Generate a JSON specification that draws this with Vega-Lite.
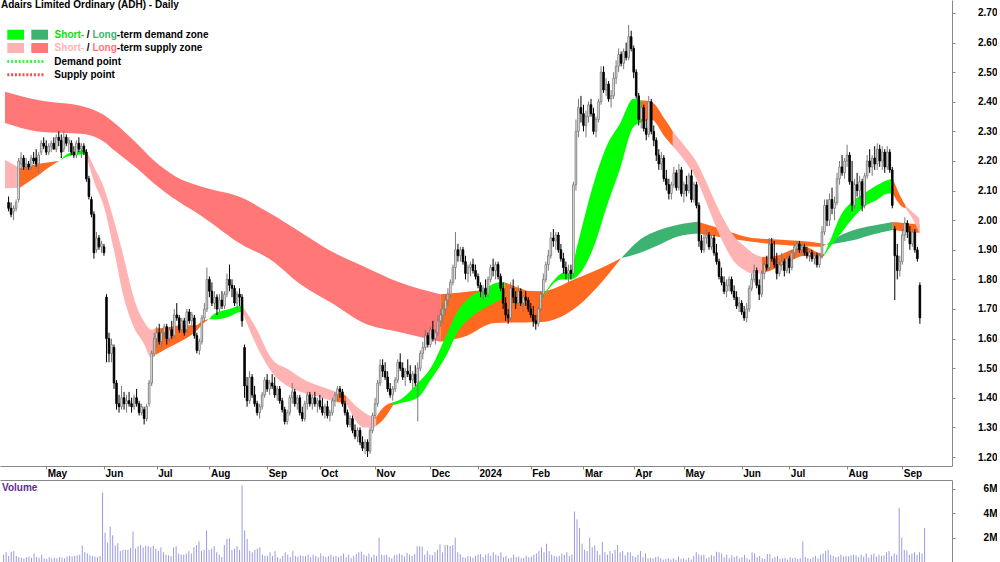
{
"$schema":"https://vega.github.io/schema/vega-lite/v6.json",
"padding":0,
"background":"white",
"spacing":0,
"config":{"view":{"stroke":null},"font":"Liberation Sans",
"axis":{"labelFont":"Liberation Sans","labelFontSize":10,"labelFontWeight":"bold","labelColor":"#000","domainColor":"#888","tickColor":"#888","grid":false,"title":null},
"axisY":{"labelOverlap":false},
"legend":{"labelFont":"Liberation Sans","labelFontSize":10,"labelFontWeight":"bold","labelColor":"#000","title":null,"padding":0}},
"datasets":{
"px":[
{"i":0,"o":2.06,"h":2.08,"l":2.03,"c":2.04,"v":0.6},{"i":1,"o":2.04,"h":2.06,"l":2.01,"c":2.02,"v":0.8},{"i":2,"o":2.03,"h":2.05,"l":2.0,"c":2.04,"v":0.5},{"i":3,"o":2.04,"h":2.07,"l":2.03,"c":2.06,"v":0.85},{"i":4,"o":2.07,"h":2.21,"l":2.06,"c":2.2,"v":0.9},{"i":5,"o":2.19,"h":2.23,"l":2.17,"c":2.21,"v":0.5},{"i":6,"o":2.21,"h":2.22,"l":2.17,"c":2.18,"v":0.4},{"i":7,"o":2.18,"h":2.21,"l":2.17,"c":2.19,"v":0.35},{"i":8,"o":2.19,"h":2.2,"l":2.17,"c":2.18,"v":0.3},{"i":9,"o":2.18,"h":2.22,"l":2.17,"c":2.21,"v":0.4},
{"i":10,"o":2.21,"h":2.23,"l":2.19,"c":2.2,"v":0.45},{"i":11,"o":2.21,"h":2.24,"l":2.18,"c":2.19,"v":0.35},{"i":12,"o":2.19,"h":2.23,"l":2.16,"c":2.22,"v":0.7},{"i":13,"o":2.23,"h":2.27,"l":2.22,"c":2.26,"v":0.4},{"i":14,"o":2.26,"h":2.28,"l":2.24,"c":2.25,"v":0.35},{"i":15,"o":2.25,"h":2.27,"l":2.22,"c":2.23,"v":0.6},{"i":16,"o":2.23,"h":2.26,"l":2.22,"c":2.25,"v":0.3},{"i":17,"o":2.25,"h":2.27,"l":2.23,"c":2.26,"v":0.25},{"i":18,"o":2.26,"h":2.28,"l":2.24,"c":2.24,"v":0.4},{"i":19,"o":2.24,"h":2.29,"l":2.23,"c":2.28,"v":0.3},
{"i":20,"o":2.28,"h":2.3,"l":2.25,"c":2.27,"v":0.35},{"i":21,"o":2.27,"h":2.29,"l":2.21,"c":2.23,"v":0.3},{"i":22,"o":2.24,"h":2.3,"l":2.23,"c":2.28,"v":0.4},{"i":23,"o":2.28,"h":2.29,"l":2.25,"c":2.26,"v":0.35},{"i":24,"o":2.26,"h":2.28,"l":2.23,"c":2.27,"v":0.3},{"i":25,"o":2.26,"h":2.27,"l":2.22,"c":2.23,"v":0.45},{"i":26,"o":2.23,"h":2.25,"l":2.21,"c":2.22,"v":0.5},{"i":27,"o":2.22,"h":2.27,"l":2.21,"c":2.26,"v":0.45},{"i":28,"o":2.26,"h":2.28,"l":2.23,"c":2.24,"v":0.5},{"i":29,"o":2.24,"h":2.26,"l":2.21,"c":2.25,"v":0.55},
{"i":30,"o":2.25,"h":2.26,"l":2.22,"c":2.23,"v":0.6},{"i":31,"o":2.23,"h":2.24,"l":2.13,"c":2.14,"v":1.35},{"i":32,"o":2.14,"h":2.15,"l":2.07,"c":2.08,"v":0.8},{"i":33,"o":2.07,"h":2.08,"l":2.01,"c":2.02,"v":0.7},{"i":34,"o":2.02,"h":2.03,"l":1.87,"c":1.89,"v":0.55},{"i":35,"o":1.9,"h":1.96,"l":1.89,"c":1.94,"v":0.5},{"i":36,"o":1.94,"h":1.95,"l":1.9,"c":1.91,"v":0.45},{"i":37,"o":1.91,"h":1.93,"l":1.89,"c":1.92,"v":0.4},{"i":38,"o":1.91,"h":1.92,"l":1.88,"c":1.89,"v":0.5},{"i":39,"o":1.74,"h":1.75,"l":1.52,"c":1.6,"v":5.7},
{"i":40,"o":1.6,"h":1.62,"l":1.52,"c":1.55,"v":2.4},{"i":41,"o":1.55,"h":1.6,"l":1.52,"c":1.58,"v":1.6},{"i":42,"o":1.57,"h":1.58,"l":1.43,"c":1.45,"v":2.9},{"i":43,"o":1.45,"h":1.46,"l":1.36,"c":1.38,"v":2.2},{"i":44,"o":1.38,"h":1.41,"l":1.35,"c":1.37,"v":1.35},{"i":45,"o":1.37,"h":1.44,"l":1.36,"c":1.4,"v":1.55},{"i":46,"o":1.4,"h":1.42,"l":1.36,"c":1.38,"v":0.9},{"i":47,"o":1.38,"h":1.41,"l":1.35,"c":1.39,"v":1.0},{"i":48,"o":1.39,"h":1.42,"l":1.37,"c":1.38,"v":1.0},{"i":49,"o":1.38,"h":1.4,"l":1.35,"c":1.37,"v":1.0},
{"i":50,"o":1.37,"h":1.41,"l":1.36,"c":1.4,"v":1.15},{"i":51,"o":1.4,"h":1.43,"l":1.37,"c":1.38,"v":2.5},{"i":52,"o":1.38,"h":1.39,"l":1.34,"c":1.35,"v":1.1},{"i":53,"o":1.35,"h":1.38,"l":1.34,"c":1.37,"v":1.3},{"i":54,"o":1.36,"h":1.37,"l":1.31,"c":1.33,"v":1.4},{"i":55,"o":1.33,"h":1.38,"l":1.32,"c":1.37,"v":1.2},{"i":56,"o":1.38,"h":1.46,"l":1.37,"c":1.45,"v":1.35},{"i":57,"o":1.45,"h":1.56,"l":1.44,"c":1.55,"v":1.3},{"i":58,"o":1.55,"h":1.62,"l":1.54,"c":1.6,"v":1.2},{"i":59,"o":1.6,"h":1.64,"l":1.57,"c":1.62,"v":1.35},
{"i":60,"o":1.62,"h":1.65,"l":1.58,"c":1.59,"v":1.1},{"i":61,"o":1.59,"h":1.63,"l":1.57,"c":1.62,"v":0.9},{"i":62,"o":1.62,"h":1.65,"l":1.6,"c":1.64,"v":1.2},{"i":63,"o":1.64,"h":1.65,"l":1.58,"c":1.6,"v":0.8},{"i":64,"o":1.6,"h":1.64,"l":1.59,"c":1.63,"v":0.6},{"i":65,"o":1.63,"h":1.66,"l":1.6,"c":1.61,"v":0.55},{"i":66,"o":1.61,"h":1.7,"l":1.6,"c":1.68,"v":0.5},{"i":67,"o":1.68,"h":1.72,"l":1.66,"c":1.67,"v":1.2},{"i":68,"o":1.67,"h":1.68,"l":1.62,"c":1.63,"v":1.3},{"i":69,"o":1.63,"h":1.67,"l":1.62,"c":1.66,"v":0.7},
{"i":70,"o":1.66,"h":1.67,"l":1.61,"c":1.62,"v":0.6},{"i":71,"o":1.63,"h":1.7,"l":1.62,"c":1.69,"v":0.6},{"i":72,"o":1.69,"h":1.7,"l":1.65,"c":1.66,"v":0.7},{"i":73,"o":1.66,"h":1.69,"l":1.64,"c":1.68,"v":0.9},{"i":74,"o":1.67,"h":1.68,"l":1.6,"c":1.61,"v":0.7},{"i":75,"o":1.61,"h":1.62,"l":1.55,"c":1.56,"v":1.2},{"i":76,"o":1.56,"h":1.6,"l":1.545,"c":1.59,"v":1.4},{"i":77,"o":1.59,"h":1.68,"l":1.58,"c":1.67,"v":1.7},{"i":78,"o":1.67,"h":1.72,"l":1.66,"c":1.7,"v":0.9},{"i":79,"o":1.7,"h":1.84,"l":1.69,"c":1.8,"v":1.0},
{"i":80,"o":1.8,"h":1.81,"l":1.74,"c":1.76,"v":2.6},{"i":81,"o":1.76,"h":1.79,"l":1.71,"c":1.72,"v":1.0},{"i":82,"o":1.72,"h":1.76,"l":1.7,"c":1.74,"v":1.1},{"i":83,"o":1.74,"h":1.75,"l":1.68,"c":1.7,"v":1.3},{"i":84,"o":1.7,"h":1.75,"l":1.69,"c":1.73,"v":0.8},{"i":85,"o":1.73,"h":1.76,"l":1.7,"c":1.71,"v":0.6},{"i":86,"o":1.71,"h":1.76,"l":1.7,"c":1.75,"v":0.4},{"i":87,"o":1.75,"h":1.82,"l":1.74,"c":1.8,"v":1.4},{"i":88,"o":1.8,"h":1.85,"l":1.76,"c":1.78,"v":1.9},{"i":89,"o":1.78,"h":1.8,"l":1.74,"c":1.77,"v":1.95},
{"i":90,"o":1.77,"h":1.78,"l":1.71,"c":1.72,"v":1.0},{"i":91,"o":1.72,"h":1.76,"l":1.7,"c":1.75,"v":1.1},{"i":92,"o":1.75,"h":1.77,"l":1.71,"c":1.74,"v":1.3},{"i":93,"o":1.74,"h":1.75,"l":1.64,"c":1.66,"v":1.0},{"i":94,"o":1.57,"h":1.58,"l":1.4,"c":1.44,"v":6.3},{"i":95,"o":1.44,"h":1.47,"l":1.37,"c":1.39,"v":2.6},{"i":96,"o":1.39,"h":1.49,"l":1.38,"c":1.47,"v":1.9},{"i":97,"o":1.47,"h":1.48,"l":1.4,"c":1.41,"v":0.9},{"i":98,"o":1.41,"h":1.44,"l":1.37,"c":1.38,"v":0.8},{"i":99,"o":1.38,"h":1.39,"l":1.34,"c":1.35,"v":1.0},
{"i":100,"o":1.35,"h":1.38,"l":1.33,"c":1.37,"v":1.1},{"i":101,"o":1.37,"h":1.42,"l":1.36,"c":1.41,"v":1.2},{"i":102,"o":1.41,"h":1.47,"l":1.4,"c":1.46,"v":0.6},{"i":103,"o":1.46,"h":1.48,"l":1.42,"c":1.43,"v":0.5},{"i":104,"o":1.43,"h":1.46,"l":1.41,"c":1.45,"v":0.5},{"i":105,"o":1.45,"h":1.48,"l":1.43,"c":1.44,"v":0.8},{"i":106,"o":1.44,"h":1.47,"l":1.4,"c":1.41,"v":0.5},{"i":107,"o":1.41,"h":1.44,"l":1.39,"c":1.43,"v":0.9},{"i":108,"o":1.43,"h":1.44,"l":1.38,"c":1.39,"v":0.4},{"i":109,"o":1.39,"h":1.4,"l":1.35,"c":1.36,"v":0.3},
{"i":110,"o":1.36,"h":1.37,"l":1.31,"c":1.32,"v":0.5},{"i":111,"o":1.32,"h":1.36,"l":1.31,"c":1.35,"v":0.8},{"i":112,"o":1.35,"h":1.41,"l":1.34,"c":1.4,"v":0.6},{"i":113,"o":1.4,"h":1.45,"l":1.38,"c":1.42,"v":0.4},{"i":114,"o":1.42,"h":1.43,"l":1.37,"c":1.38,"v":0.9},{"i":115,"o":1.38,"h":1.41,"l":1.36,"c":1.4,"v":0.5},{"i":116,"o":1.4,"h":1.41,"l":1.34,"c":1.35,"v":0.45},{"i":117,"o":1.35,"h":1.37,"l":1.32,"c":1.33,"v":0.55},{"i":118,"o":1.33,"h":1.39,"l":1.32,"c":1.38,"v":0.5},{"i":119,"o":1.38,"h":1.42,"l":1.36,"c":1.41,"v":0.5},
{"i":120,"o":1.41,"h":1.42,"l":1.37,"c":1.38,"v":0.6},{"i":121,"o":1.38,"h":1.41,"l":1.36,"c":1.4,"v":0.4},{"i":122,"o":1.4,"h":1.42,"l":1.37,"c":1.38,"v":0.6},{"i":123,"o":1.38,"h":1.4,"l":1.35,"c":1.39,"v":0.5},{"i":124,"o":1.39,"h":1.41,"l":1.36,"c":1.37,"v":0.4},{"i":125,"o":1.37,"h":1.4,"l":1.34,"c":1.35,"v":0.7},{"i":126,"o":1.35,"h":1.38,"l":1.33,"c":1.37,"v":0.5},{"i":127,"o":1.37,"h":1.39,"l":1.33,"c":1.34,"v":0.4},{"i":128,"o":1.34,"h":1.36,"l":1.32,"c":1.35,"v":0.5},{"i":129,"o":1.35,"h":1.4,"l":1.34,"c":1.39,"v":0.6},
{"i":130,"o":1.39,"h":1.42,"l":1.37,"c":1.41,"v":0.45},{"i":131,"o":1.41,"h":1.44,"l":1.39,"c":1.43,"v":0.5},{"i":132,"o":1.43,"h":1.44,"l":1.4,"c":1.42,"v":0.4},{"i":133,"o":1.42,"h":1.43,"l":1.37,"c":1.38,"v":0.5},{"i":134,"o":1.38,"h":1.39,"l":1.34,"c":1.35,"v":0.7},{"i":135,"o":1.35,"h":1.36,"l":1.3,"c":1.31,"v":0.4},{"i":136,"o":1.31,"h":1.34,"l":1.3,"c":1.33,"v":0.6},{"i":137,"o":1.33,"h":1.34,"l":1.28,"c":1.29,"v":0.3},{"i":138,"o":1.29,"h":1.31,"l":1.26,"c":1.27,"v":0.5},{"i":139,"o":1.27,"h":1.3,"l":1.25,"c":1.29,"v":0.65},
{"i":140,"o":1.29,"h":1.3,"l":1.24,"c":1.25,"v":0.8},{"i":141,"o":1.25,"h":1.27,"l":1.22,"c":1.23,"v":0.85},{"i":142,"o":1.23,"h":1.26,"l":1.21,"c":1.25,"v":0.6},{"i":143,"o":1.25,"h":1.26,"l":1.2,"c":1.22,"v":0.5},{"i":144,"o":1.22,"h":1.3,"l":1.21,"c":1.29,"v":0.7},{"i":145,"o":1.29,"h":1.35,"l":1.28,"c":1.34,"v":0.4},{"i":146,"o":1.34,"h":1.4,"l":1.33,"c":1.38,"v":0.6},{"i":147,"o":1.38,"h":1.46,"l":1.37,"c":1.45,"v":0.5},{"i":148,"o":1.45,"h":1.53,"l":1.44,"c":1.51,"v":2.0},{"i":149,"o":1.51,"h":1.53,"l":1.47,"c":1.49,"v":0.6},
{"i":150,"o":1.49,"h":1.52,"l":1.46,"c":1.47,"v":0.55},{"i":151,"o":1.47,"h":1.49,"l":1.42,"c":1.43,"v":0.6},{"i":152,"o":1.43,"h":1.45,"l":1.4,"c":1.41,"v":0.4},{"i":153,"o":1.41,"h":1.44,"l":1.39,"c":1.43,"v":0.3},{"i":154,"o":1.43,"h":1.47,"l":1.42,"c":1.46,"v":0.55},{"i":155,"o":1.46,"h":1.53,"l":1.45,"c":1.52,"v":0.6},{"i":156,"o":1.52,"h":1.55,"l":1.49,"c":1.5,"v":0.7},{"i":157,"o":1.5,"h":1.52,"l":1.46,"c":1.47,"v":0.6},{"i":158,"o":1.47,"h":1.5,"l":1.44,"c":1.49,"v":0.45},{"i":159,"o":1.49,"h":1.53,"l":1.47,"c":1.48,"v":0.75},
{"i":160,"o":1.48,"h":1.51,"l":1.45,"c":1.46,"v":0.6},{"i":161,"o":1.46,"h":1.49,"l":1.43,"c":1.48,"v":0.5},{"i":162,"o":1.48,"h":1.51,"l":1.44,"c":1.45,"v":0.65},{"i":163,"o":1.45,"h":1.52,"l":1.32,"c":1.5,"v":1.3},{"i":164,"o":1.5,"h":1.56,"l":1.49,"c":1.55,"v":1.3},{"i":165,"o":1.55,"h":1.59,"l":1.53,"c":1.57,"v":1.25},{"i":166,"o":1.57,"h":1.63,"l":1.56,"c":1.61,"v":0.6},{"i":167,"o":1.61,"h":1.62,"l":1.57,"c":1.58,"v":0.9},{"i":168,"o":1.58,"h":1.64,"l":1.57,"c":1.63,"v":0.6},{"i":169,"o":1.63,"h":1.66,"l":1.59,"c":1.6,"v":0.55},
{"i":170,"o":1.6,"h":1.63,"l":1.58,"c":1.62,"v":0.8},{"i":171,"o":1.62,"h":1.68,"l":1.61,"c":1.66,"v":1.0},{"i":172,"o":1.66,"h":1.7,"l":1.64,"c":1.68,"v":1.45},{"i":173,"o":1.68,"h":1.72,"l":1.65,"c":1.7,"v":0.8},{"i":174,"o":1.7,"h":1.75,"l":1.68,"c":1.73,"v":1.4},{"i":175,"o":1.73,"h":1.77,"l":1.71,"c":1.75,"v":1.4},{"i":176,"o":1.75,"h":1.8,"l":1.74,"c":1.79,"v":1.3},{"i":177,"o":1.79,"h":1.85,"l":1.78,"c":1.84,"v":1.4},{"i":178,"o":1.84,"h":1.96,"l":1.8,"c":1.9,"v":2.0},{"i":179,"o":1.9,"h":1.92,"l":1.86,"c":1.88,"v":0.8},
{"i":180,"o":1.88,"h":1.91,"l":1.86,"c":1.9,"v":0.65},{"i":181,"o":1.9,"h":1.91,"l":1.85,"c":1.86,"v":0.4},{"i":182,"o":1.86,"h":1.88,"l":1.8,"c":1.82,"v":0.35},{"i":183,"o":1.82,"h":1.85,"l":1.79,"c":1.84,"v":0.5},{"i":184,"o":1.84,"h":1.86,"l":1.81,"c":1.85,"v":0.45},{"i":185,"o":1.85,"h":1.87,"l":1.82,"c":1.83,"v":0.35},{"i":186,"o":1.83,"h":1.85,"l":1.8,"c":1.81,"v":0.5},{"i":187,"o":1.81,"h":1.82,"l":1.77,"c":1.78,"v":0.6},{"i":188,"o":1.78,"h":1.79,"l":1.74,"c":1.76,"v":0.65},{"i":189,"o":1.76,"h":1.78,"l":1.73,"c":1.77,"v":0.4},
{"i":190,"o":1.77,"h":1.8,"l":1.74,"c":1.75,"v":0.6},{"i":191,"o":1.75,"h":1.81,"l":1.74,"c":1.8,"v":0.7},{"i":192,"o":1.8,"h":1.85,"l":1.79,"c":1.84,"v":0.5},{"i":193,"o":1.84,"h":1.87,"l":1.81,"c":1.83,"v":0.8},{"i":194,"o":1.83,"h":1.86,"l":1.8,"c":1.85,"v":0.6},{"i":195,"o":1.85,"h":1.86,"l":1.8,"c":1.81,"v":0.5},{"i":196,"o":1.81,"h":1.82,"l":1.76,"c":1.77,"v":0.8},{"i":197,"o":1.77,"h":1.79,"l":1.7,"c":1.72,"v":0.4},{"i":198,"o":1.72,"h":1.74,"l":1.66,"c":1.68,"v":0.5},{"i":199,"o":1.68,"h":1.7,"l":1.65,"c":1.67,"v":0.3},
{"i":200,"o":1.67,"h":1.79,"l":1.66,"c":1.77,"v":0.35},{"i":201,"o":1.77,"h":1.8,"l":1.72,"c":1.74,"v":0.6},{"i":202,"o":1.74,"h":1.76,"l":1.7,"c":1.72,"v":0.4},{"i":203,"o":1.72,"h":1.78,"l":1.71,"c":1.76,"v":0.45},{"i":204,"o":1.76,"h":1.77,"l":1.71,"c":1.72,"v":0.3},{"i":205,"o":1.72,"h":1.75,"l":1.69,"c":1.74,"v":0.35},{"i":206,"o":1.74,"h":1.76,"l":1.71,"c":1.73,"v":0.5},{"i":207,"o":1.73,"h":1.74,"l":1.69,"c":1.7,"v":0.4},{"i":208,"o":1.7,"h":1.72,"l":1.67,"c":1.68,"v":0.45},{"i":209,"o":1.68,"h":1.71,"l":1.64,"c":1.66,"v":0.6},
{"i":210,"o":1.66,"h":1.68,"l":1.63,"c":1.65,"v":0.7},{"i":211,"o":1.65,"h":1.71,"l":1.64,"c":1.7,"v":0.9},{"i":212,"o":1.7,"h":1.76,"l":1.69,"c":1.75,"v":1.2},{"i":213,"o":1.75,"h":1.82,"l":1.74,"c":1.8,"v":0.8},{"i":214,"o":1.8,"h":1.86,"l":1.79,"c":1.85,"v":1.5},{"i":215,"o":1.85,"h":1.9,"l":1.83,"c":1.88,"v":0.9},{"i":216,"o":1.88,"h":1.96,"l":1.87,"c":1.94,"v":0.6},{"i":217,"o":1.94,"h":1.97,"l":1.91,"c":1.93,"v":0.5},{"i":218,"o":1.93,"h":1.96,"l":1.9,"c":1.95,"v":0.45},{"i":219,"o":1.95,"h":1.96,"l":1.89,"c":1.9,"v":0.5},
{"i":220,"o":1.9,"h":1.92,"l":1.86,"c":1.87,"v":0.7},{"i":221,"o":1.87,"h":1.89,"l":1.82,"c":1.84,"v":0.6},{"i":222,"o":1.84,"h":1.86,"l":1.8,"c":1.82,"v":0.8},{"i":223,"o":1.82,"h":1.85,"l":1.79,"c":1.83,"v":0.5},{"i":224,"o":1.83,"h":1.85,"l":1.8,"c":1.82,"v":0.6},{"i":225,"o":1.82,"h":2.13,"l":1.81,"c":2.12,"v":4.15},{"i":226,"o":2.12,"h":2.34,"l":2.1,"c":2.3,"v":3.5},{"i":227,"o":2.3,"h":2.41,"l":2.28,"c":2.38,"v":2.8},{"i":228,"o":2.38,"h":2.42,"l":2.33,"c":2.36,"v":1.5},{"i":229,"o":2.36,"h":2.39,"l":2.3,"c":2.32,"v":1.0},
{"i":230,"o":2.32,"h":2.37,"l":2.28,"c":2.35,"v":0.9},{"i":231,"o":2.35,"h":2.4,"l":2.33,"c":2.39,"v":2.0},{"i":232,"o":2.39,"h":2.41,"l":2.35,"c":2.36,"v":1.2},{"i":233,"o":2.36,"h":2.38,"l":2.29,"c":2.3,"v":1.35},{"i":234,"o":2.3,"h":2.35,"l":2.28,"c":2.34,"v":0.9},{"i":235,"o":2.34,"h":2.41,"l":2.33,"c":2.4,"v":0.6},{"i":236,"o":2.4,"h":2.52,"l":2.39,"c":2.5,"v":1.65},{"i":237,"o":2.5,"h":2.52,"l":2.43,"c":2.44,"v":0.8},{"i":238,"o":2.44,"h":2.48,"l":2.42,"c":2.46,"v":0.6},{"i":239,"o":2.46,"h":2.47,"l":2.4,"c":2.41,"v":0.9},
{"i":240,"o":2.41,"h":2.44,"l":2.38,"c":2.42,"v":0.7},{"i":241,"o":2.42,"h":2.5,"l":2.41,"c":2.48,"v":1.0},{"i":242,"o":2.48,"h":2.54,"l":2.46,"c":2.52,"v":1.4},{"i":243,"o":2.52,"h":2.58,"l":2.5,"c":2.56,"v":0.8},{"i":244,"o":2.56,"h":2.57,"l":2.52,"c":2.53,"v":0.9},{"i":245,"o":2.53,"h":2.58,"l":2.51,"c":2.57,"v":0.55},{"i":246,"o":2.57,"h":2.6,"l":2.54,"c":2.55,"v":0.8},{"i":247,"o":2.55,"h":2.66,"l":2.54,"c":2.62,"v":0.8},{"i":248,"o":2.62,"h":2.64,"l":2.57,"c":2.58,"v":0.5},{"i":249,"o":2.58,"h":2.59,"l":2.48,"c":2.5,"v":0.4},
{"i":250,"o":2.5,"h":2.51,"l":2.41,"c":2.42,"v":0.6},{"i":251,"o":2.42,"h":2.43,"l":2.32,"c":2.34,"v":0.9},{"i":252,"o":2.34,"h":2.4,"l":2.31,"c":2.38,"v":0.4},{"i":253,"o":2.38,"h":2.39,"l":2.3,"c":2.31,"v":0.7},{"i":254,"o":2.31,"h":2.34,"l":2.27,"c":2.29,"v":0.3},{"i":255,"o":2.29,"h":2.42,"l":2.28,"c":2.4,"v":0.35},{"i":256,"o":2.4,"h":2.41,"l":2.29,"c":2.3,"v":0.3},{"i":257,"o":2.3,"h":2.32,"l":2.25,"c":2.27,"v":0.4},{"i":258,"o":2.27,"h":2.28,"l":2.2,"c":2.22,"v":0.45},{"i":259,"o":2.22,"h":2.24,"l":2.17,"c":2.19,"v":0.3},
{"i":260,"o":2.19,"h":2.23,"l":2.17,"c":2.21,"v":0.2},{"i":261,"o":2.21,"h":2.22,"l":2.13,"c":2.14,"v":0.25},{"i":262,"o":2.14,"h":2.17,"l":2.1,"c":2.12,"v":0.3},{"i":263,"o":2.12,"h":2.14,"l":2.07,"c":2.09,"v":0.2},{"i":264,"o":2.09,"h":2.13,"l":2.07,"c":2.12,"v":0.3},{"i":265,"o":2.12,"h":2.18,"l":2.11,"c":2.16,"v":0.2},{"i":266,"o":2.16,"h":2.17,"l":2.1,"c":2.11,"v":0.45},{"i":267,"o":2.11,"h":2.19,"l":2.1,"c":2.17,"v":0.25},{"i":268,"o":2.17,"h":2.18,"l":2.08,"c":2.09,"v":0.3},{"i":269,"o":2.09,"h":2.13,"l":2.06,"c":2.12,"v":0.2},
{"i":270,"o":2.12,"h":2.15,"l":2.08,"c":2.1,"v":0.35},{"i":271,"o":2.1,"h":2.16,"l":2.09,"c":2.15,"v":0.2},{"i":272,"o":2.15,"h":2.17,"l":2.06,"c":2.07,"v":0.5},{"i":273,"o":2.07,"h":2.13,"l":2.06,"c":2.12,"v":0.8},{"i":274,"o":2.12,"h":2.13,"l":2.04,"c":2.05,"v":0.6},{"i":275,"o":2.05,"h":2.06,"l":1.91,"c":1.93,"v":0.55},{"i":276,"o":1.93,"h":1.95,"l":1.89,"c":1.9,"v":0.6},{"i":277,"o":1.9,"h":1.96,"l":1.89,"c":1.94,"v":0.3},{"i":278,"o":1.94,"h":1.97,"l":1.92,"c":1.95,"v":0.4},{"i":279,"o":1.95,"h":1.96,"l":1.9,"c":1.91,"v":0.55},
{"i":280,"o":1.91,"h":1.95,"l":1.9,"c":1.94,"v":0.5},{"i":281,"o":1.94,"h":1.95,"l":1.88,"c":1.89,"v":0.85},{"i":282,"o":1.89,"h":1.92,"l":1.85,"c":1.86,"v":0.8},{"i":283,"o":1.86,"h":1.87,"l":1.8,"c":1.81,"v":0.7},{"i":284,"o":1.81,"h":1.84,"l":1.78,"c":1.79,"v":0.4},{"i":285,"o":1.79,"h":1.81,"l":1.75,"c":1.76,"v":0.6},{"i":286,"o":1.76,"h":1.8,"l":1.74,"c":1.78,"v":0.3},{"i":287,"o":1.78,"h":1.81,"l":1.76,"c":1.8,"v":0.55},{"i":288,"o":1.8,"h":1.81,"l":1.75,"c":1.76,"v":0.4},{"i":289,"o":1.76,"h":1.78,"l":1.73,"c":1.74,"v":0.5},
{"i":290,"o":1.74,"h":1.76,"l":1.7,"c":1.71,"v":0.3},{"i":291,"o":1.71,"h":1.74,"l":1.69,"c":1.72,"v":0.4},{"i":292,"o":1.72,"h":1.73,"l":1.68,"c":1.69,"v":0.6},{"i":293,"o":1.69,"h":1.71,"l":1.66,"c":1.67,"v":0.3},{"i":294,"o":1.67,"h":1.72,"l":1.655,"c":1.7,"v":0.2},{"i":295,"o":1.7,"h":1.78,"l":1.69,"c":1.77,"v":0.8},{"i":296,"o":1.77,"h":1.82,"l":1.76,"c":1.8,"v":0.7},{"i":297,"o":1.8,"h":1.85,"l":1.79,"c":1.83,"v":0.4},{"i":298,"o":1.83,"h":1.84,"l":1.77,"c":1.78,"v":0.5},{"i":299,"o":1.78,"h":1.8,"l":1.73,"c":1.75,"v":0.3},
{"i":300,"o":1.75,"h":1.83,"l":1.74,"c":1.82,"v":0.25},{"i":301,"o":1.82,"h":1.86,"l":1.8,"c":1.85,"v":0.65},{"i":302,"o":1.85,"h":1.88,"l":1.83,"c":1.84,"v":0.65},{"i":303,"o":1.84,"h":1.94,"l":1.83,"c":1.92,"v":0.3},{"i":304,"o":1.92,"h":1.94,"l":1.86,"c":1.87,"v":0.4},{"i":305,"o":1.87,"h":1.93,"l":1.84,"c":1.85,"v":0.5},{"i":306,"o":1.85,"h":1.89,"l":1.8,"c":1.82,"v":0.25},{"i":307,"o":1.82,"h":1.86,"l":1.81,"c":1.85,"v":0.3},{"i":308,"o":1.85,"h":1.89,"l":1.83,"c":1.86,"v":0.35},{"i":309,"o":1.86,"h":1.87,"l":1.81,"c":1.83,"v":0.2},
{"i":310,"o":1.83,"h":1.88,"l":1.82,"c":1.87,"v":0.4},{"i":311,"o":1.87,"h":1.88,"l":1.82,"c":1.84,"v":0.3},{"i":312,"o":1.84,"h":1.9,"l":1.83,"c":1.89,"v":0.35},{"i":313,"o":1.89,"h":1.92,"l":1.87,"c":1.91,"v":0.25},{"i":314,"o":1.91,"h":1.93,"l":1.89,"c":1.92,"v":0.3},{"i":315,"o":1.92,"h":1.93,"l":1.89,"c":1.9,"v":1.7},{"i":316,"o":1.9,"h":1.92,"l":1.88,"c":1.91,"v":0.4},{"i":317,"o":1.91,"h":1.92,"l":1.88,"c":1.89,"v":0.3},{"i":318,"o":1.89,"h":1.91,"l":1.87,"c":1.88,"v":0.25},{"i":319,"o":1.88,"h":1.9,"l":1.86,"c":1.89,"v":0.4},
{"i":320,"o":1.89,"h":1.9,"l":1.86,"c":1.87,"v":0.5},{"i":321,"o":1.87,"h":1.89,"l":1.85,"c":1.88,"v":0.3},{"i":322,"o":1.88,"h":1.89,"l":1.84,"c":1.85,"v":0.6},{"i":323,"o":1.85,"h":1.89,"l":1.84,"c":1.88,"v":0.7},{"i":324,"o":1.88,"h":1.98,"l":1.87,"c":1.96,"v":0.9},{"i":325,"o":1.96,"h":2.07,"l":1.95,"c":2.05,"v":1.0},{"i":326,"o":2.05,"h":2.07,"l":1.98,"c":2.0,"v":0.6},{"i":327,"o":2.0,"h":2.09,"l":1.98,"c":2.07,"v":0.5},{"i":328,"o":2.07,"h":2.11,"l":2.02,"c":2.04,"v":0.4},{"i":329,"o":2.04,"h":2.08,"l":2.0,"c":2.06,"v":0.45},
{"i":330,"o":2.06,"h":2.16,"l":2.05,"c":2.14,"v":0.6},{"i":331,"o":2.14,"h":2.2,"l":2.12,"c":2.18,"v":0.45},{"i":332,"o":2.18,"h":2.22,"l":2.15,"c":2.16,"v":0.5},{"i":333,"o":2.16,"h":2.21,"l":2.14,"c":2.2,"v":0.45},{"i":334,"o":2.2,"h":2.255,"l":2.18,"c":2.22,"v":0.55},{"i":335,"o":2.22,"h":2.23,"l":2.12,"c":2.13,"v":0.6},{"i":336,"o":2.13,"h":2.2,"l":2.03,"c":2.05,"v":0.55},{"i":337,"o":2.05,"h":2.14,"l":2.04,"c":2.12,"v":0.4},{"i":338,"o":2.12,"h":2.16,"l":2.08,"c":2.1,"v":0.6},{"i":339,"o":2.1,"h":2.15,"l":2.07,"c":2.13,"v":0.45},
{"i":340,"o":2.13,"h":2.14,"l":2.03,"c":2.05,"v":0.7},{"i":341,"o":2.05,"h":2.16,"l":2.04,"c":2.15,"v":0.35},{"i":342,"o":2.15,"h":2.22,"l":2.14,"c":2.2,"v":0.6},{"i":343,"o":2.2,"h":2.24,"l":2.16,"c":2.18,"v":0.7},{"i":344,"o":2.18,"h":2.22,"l":2.15,"c":2.21,"v":0.45},{"i":345,"o":2.21,"h":2.25,"l":2.17,"c":2.19,"v":0.6},{"i":346,"o":2.19,"h":2.26,"l":2.17,"c":2.24,"v":0.5},{"i":347,"o":2.24,"h":2.255,"l":2.18,"c":2.2,"v":0.55},{"i":348,"o":2.2,"h":2.25,"l":2.17,"c":2.23,"v":0.8},{"i":349,"o":2.23,"h":2.24,"l":2.16,"c":2.18,"v":0.9},
{"i":350,"o":2.18,"h":2.25,"l":2.17,"c":2.23,"v":0.5},{"i":351,"o":2.23,"h":2.24,"l":2.16,"c":2.17,"v":0.7},{"i":352,"o":2.17,"h":2.18,"l":2.04,"c":2.05,"v":0.6},{"i":353,"o":1.97,"h":1.98,"l":1.73,"c":1.88,"v":4.45},{"i":354,"o":1.88,"h":1.92,"l":1.8,"c":1.83,"v":2.0},{"i":355,"o":1.83,"h":1.88,"l":1.81,"c":1.86,"v":1.0},{"i":356,"o":1.86,"h":1.97,"l":1.85,"c":1.95,"v":0.95},{"i":357,"o":1.95,"h":2.01,"l":1.93,"c":1.99,"v":0.6},{"i":358,"o":1.99,"h":2.0,"l":1.94,"c":1.96,"v":0.7},{"i":359,"o":1.96,"h":1.98,"l":1.9,"c":1.92,"v":0.8},
{"i":360,"o":1.92,"h":1.97,"l":1.91,"c":1.96,"v":0.6},{"i":361,"o":1.96,"h":1.97,"l":1.89,"c":1.9,"v":0.8},{"i":362,"o":1.9,"h":1.91,"l":1.86,"c":1.87,"v":0.7},{"i":363,"o":1.78,"h":1.79,"l":1.65,"c":1.67,"v":2.8}
],
"bands":[
{"b":"L","seg":"L1","zone":"ltS","i":-1.42,"hi":2.434,"lo":2.328},{"b":"L","seg":"L1","zone":"ltS","i":11.59,"hi":2.406,"lo":2.3},{"b":"L","seg":"L1","zone":"ltS","i":30.11,"hi":2.383,"lo":2.291},{"b":"L","seg":"L1","zone":"ltS","i":38.0,"hi":2.355,"lo":2.265},{"b":"L","seg":"L1","zone":"ltS","i":41.94,"hi":2.33,"lo":2.237},{"b":"L","seg":"L1","zone":"ltS","i":51.0,"hi":2.26,"lo":2.176},{"b":"L","seg":"L1","zone":"ltS","i":57.7,"hi":2.203,"lo":2.126},{"b":"L","seg":"L1","zone":"ltS","i":66.8,"hi":2.146,"lo":2.068},{"b":"L","seg":"L1","zone":"ltS","i":77.41,"hi":2.112,"lo":2.011},{"b":"L","seg":"L1","zone":"ltS","i":93.19,"hi":2.075,"lo":1.916},{"b":"L","seg":"L1","zone":"ltS","i":103.8,"hi":2.025,"lo":1.87},{"b":"L","seg":"L1","zone":"ltS","i":116.8,"hi":1.957,"lo":1.78},{"b":"L","seg":"L1","zone":"ltS","i":128.7,"hi":1.894,"lo":1.72},{"b":"L","seg":"L1","zone":"ltS","i":141.7,"hi":1.843,"lo":1.652},{"b":"L","seg":"L1","zone":"ltS","i":155.1,"hi":1.792,"lo":1.623},{"b":"L","seg":"L1","zone":"ltS","i":172.0,"hi":1.75,"lo":1.589},
{"b":"L","seg":"L2","zone":"neu","i":172.0,"hi":1.75,"lo":1.589},{"b":"L","seg":"L2","zone":"neu","i":181.1,"hi":1.757,"lo":1.605},{"b":"L","seg":"L2","zone":"neu","i":193.7,"hi":1.765,"lo":1.653},{"b":"L","seg":"L2","zone":"neu","i":212.2,"hi":1.76,"lo":1.656},{"b":"L","seg":"L2","zone":"neu","i":225.2,"hi":1.8,"lo":1.7},{"b":"L","seg":"L2","zone":"neu","i":235.9,"hi":1.838,"lo":1.787},{"b":"L","seg":"L2","zone":"neu","i":244.1,"hi":1.872,"lo":1.872},
{"b":"L","seg":"L3","zone":"ltD","i":244.1,"hi":1.872,"lo":1.872},{"b":"L","seg":"L3","zone":"ltD","i":251.6,"hi":1.935,"lo":1.89},{"b":"L","seg":"L3","zone":"ltD","i":258.7,"hi":1.965,"lo":1.915},{"b":"L","seg":"L3","zone":"ltD","i":266.6,"hi":1.985,"lo":1.945},{"b":"L","seg":"L3","zone":"ltD","i":274.5,"hi":1.995,"lo":1.955},
{"b":"L","seg":"L4","zone":"neu","i":274.5,"hi":1.995,"lo":1.955},{"b":"L","seg":"L4","zone":"neu","i":283.2,"hi":1.973,"lo":1.943},{"b":"L","seg":"L4","zone":"neu","i":296.2,"hi":1.94,"lo":1.927},{"b":"L","seg":"L4","zone":"neu","i":309.2,"hi":1.933,"lo":1.916},{"b":"L","seg":"L4","zone":"neu","i":322.6,"hi":1.923,"lo":1.91},{"b":"L","seg":"L4","zone":"neu","i":325.7,"hi":1.917,"lo":1.917},
{"b":"L","seg":"L5","zone":"ltD","i":325.7,"hi":1.917,"lo":1.917},{"b":"L","seg":"L5","zone":"ltD","i":331.7,"hi":1.95,"lo":1.925},{"b":"L","seg":"L5","zone":"ltD","i":336.8,"hi":1.967,"lo":1.933},{"b":"L","seg":"L5","zone":"ltD","i":343.5,"hi":1.98,"lo":1.95},{"b":"L","seg":"L5","zone":"ltD","i":352.2,"hi":1.994,"lo":1.967},
{"b":"L","seg":"L6","zone":"neu","i":352.2,"hi":1.994,"lo":1.967},{"b":"L","seg":"L6","zone":"neu","i":357.3,"hi":1.99,"lo":1.962},{"b":"L","seg":"L6","zone":"neu","i":362.8,"hi":1.987,"lo":1.958},
{"b":"S","seg":"S1","zone":"stS","i":-1.42,"hi":2.203,"lo":2.108},{"b":"S","seg":"S1","zone":"stS","i":4.49,"hi":2.176,"lo":2.11},
{"b":"S","seg":"S2","zone":"neu","i":4.49,"hi":2.176,"lo":2.11},{"b":"S","seg":"S2","zone":"neu","i":11.59,"hi":2.19,"lo":2.15},{"b":"S","seg":"S2","zone":"neu","i":16.32,"hi":2.196,"lo":2.18},{"b":"S","seg":"S2","zone":"neu","i":20.26,"hi":2.2,"lo":2.2},
{"b":"S","seg":"S3","zone":"stD","i":20.26,"hi":2.2,"lo":2.2},{"b":"S","seg":"S3","zone":"stD","i":23.41,"hi":2.224,"lo":2.215},{"b":"S","seg":"S3","zone":"stD","i":26.96,"hi":2.232,"lo":2.22},{"b":"S","seg":"S3","zone":"stD","i":30.11,"hi":2.237,"lo":2.223},{"b":"S","seg":"S3","zone":"stD","i":30.9,"hi":2.236,"lo":2.222},
{"b":"S","seg":"S4","zone":"stS","i":30.9,"hi":2.236,"lo":2.222},{"b":"S","seg":"S4","zone":"stS","i":34.06,"hi":2.18,"lo":2.13},{"b":"S","seg":"S4","zone":"stS","i":38.0,"hi":2.11,"lo":2.045},{"b":"S","seg":"S4","zone":"stS","i":41.94,"hi":2.0,"lo":1.9},{"b":"S","seg":"S4","zone":"stS","i":45.88,"hi":1.875,"lo":1.74},{"b":"S","seg":"S4","zone":"stS","i":49.82,"hi":1.74,"lo":1.64},{"b":"S","seg":"S4","zone":"stS","i":53.76,"hi":1.66,"lo":1.585},{"b":"S","seg":"S4","zone":"stS","i":56.92,"hi":1.63,"lo":1.535},{"b":"S","seg":"S4","zone":"stS","i":58.49,"hi":1.635,"lo":1.545},
{"b":"S","seg":"S5","zone":"neu","i":58.49,"hi":1.635,"lo":1.545},{"b":"S","seg":"S5","zone":"neu","i":61.65,"hi":1.636,"lo":1.56},{"b":"S","seg":"S5","zone":"neu","i":69.53,"hi":1.646,"lo":1.595},{"b":"S","seg":"S5","zone":"neu","i":74.66,"hi":1.645,"lo":1.625},{"b":"S","seg":"S5","zone":"neu","i":77.41,"hi":1.66,"lo":1.65},{"b":"S","seg":"S5","zone":"neu","i":79.78,"hi":1.665,"lo":1.665},
{"b":"S","seg":"S6","zone":"stD","i":79.78,"hi":1.665,"lo":1.665},{"b":"S","seg":"S6","zone":"stD","i":81.36,"hi":1.68,"lo":1.665},{"b":"S","seg":"S6","zone":"stD","i":88.06,"hi":1.7,"lo":1.675},{"b":"S","seg":"S6","zone":"stD","i":92.4,"hi":1.71,"lo":1.69},{"b":"S","seg":"S6","zone":"stD","i":93.19,"hi":1.71,"lo":1.69},
{"b":"S","seg":"S7","zone":"stS","i":93.19,"hi":1.71,"lo":1.69},{"b":"S","seg":"S7","zone":"stS","i":98.31,"hi":1.64,"lo":1.585},{"b":"S","seg":"S7","zone":"stS","i":105.0,"hi":1.53,"lo":1.485},{"b":"S","seg":"S7","zone":"stS","i":111.7,"hi":1.495,"lo":1.437},{"b":"S","seg":"S7","zone":"stS","i":118.0,"hi":1.46,"lo":1.415},{"b":"S","seg":"S7","zone":"stS","i":124.7,"hi":1.437,"lo":1.4},{"b":"S","seg":"S7","zone":"stS","i":130.6,"hi":1.42,"lo":1.385},
{"b":"S","seg":"S8","zone":"neu","i":130.6,"hi":1.42,"lo":1.385},{"b":"S","seg":"S8","zone":"neu","i":132.6,"hi":1.415,"lo":1.385},{"b":"S","seg":"S8","zone":"neu","i":134.6,"hi":1.405,"lo":1.38},
{"b":"S","seg":"S9","zone":"stS","i":134.6,"hi":1.405,"lo":1.38},{"b":"S","seg":"S9","zone":"stS","i":141.7,"hi":1.35,"lo":1.3},{"b":"S","seg":"S9","zone":"stS","i":145.6,"hi":1.335,"lo":1.3},{"b":"S","seg":"S9","zone":"stS","i":146.4,"hi":1.335,"lo":1.305},
{"b":"S","seg":"S10","zone":"neu","i":146.4,"hi":1.335,"lo":1.305},{"b":"S","seg":"S10","zone":"neu","i":149.6,"hi":1.37,"lo":1.33},{"b":"S","seg":"S10","zone":"neu","i":153.1,"hi":1.385,"lo":1.375},
{"b":"S","seg":"S11","zone":"stD","i":153.1,"hi":1.385,"lo":1.375},{"b":"S","seg":"S11","zone":"stD","i":155.1,"hi":1.39,"lo":1.38},{"b":"S","seg":"S11","zone":"stD","i":163.0,"hi":1.45,"lo":1.4},{"b":"S","seg":"S11","zone":"stD","i":168.1,"hi":1.5,"lo":1.46},{"b":"S","seg":"S11","zone":"stD","i":174.8,"hi":1.62,"lo":1.55},{"b":"S","seg":"S11","zone":"stD","i":178.7,"hi":1.69,"lo":1.62},{"b":"S","seg":"S11","zone":"stD","i":183.8,"hi":1.74,"lo":1.67},{"b":"S","seg":"S11","zone":"stD","i":189.0,"hi":1.765,"lo":1.7},{"b":"S","seg":"S11","zone":"stD","i":195.7,"hi":1.79,"lo":1.73},{"b":"S","seg":"S11","zone":"stD","i":197.6,"hi":1.79,"lo":1.74},
{"b":"S","seg":"S12","zone":"neu","i":197.6,"hi":1.79,"lo":1.74},{"b":"S","seg":"S12","zone":"neu","i":203.6,"hi":1.77,"lo":1.72},{"b":"S","seg":"S12","zone":"neu","i":209.5,"hi":1.75,"lo":1.72},{"b":"S","seg":"S12","zone":"neu","i":212.2,"hi":1.735,"lo":1.73},
{"b":"S","seg":"S13","zone":"stD","i":212.2,"hi":1.735,"lo":1.73},{"b":"S","seg":"S13","zone":"stD","i":220.1,"hi":1.82,"lo":1.8},{"b":"S","seg":"S13","zone":"stD","i":224.0,"hi":1.83,"lo":1.8},{"b":"S","seg":"S13","zone":"stD","i":226.4,"hi":1.91,"lo":1.81},{"b":"S","seg":"S13","zone":"stD","i":233.1,"hi":2.126,"lo":1.91},{"b":"S","seg":"S13","zone":"stD","i":238.2,"hi":2.25,"lo":2.045},{"b":"S","seg":"S13","zone":"stD","i":243.8,"hi":2.33,"lo":2.18},{"b":"S","seg":"S13","zone":"stD","i":248.9,"hi":2.41,"lo":2.315},{"b":"S","seg":"S13","zone":"stD","i":252.0,"hi":2.405,"lo":2.33},
{"b":"S","seg":"S14","zone":"neu","i":252.0,"hi":2.405,"lo":2.33},{"b":"S","seg":"S14","zone":"neu","i":256.0,"hi":2.4,"lo":2.34},{"b":"S","seg":"S14","zone":"neu","i":261.5,"hi":2.34,"lo":2.28},{"b":"S","seg":"S14","zone":"neu","i":264.6,"hi":2.3,"lo":2.25},
{"b":"S","seg":"S15","zone":"stS","i":264.6,"hi":2.3,"lo":2.25},{"b":"S","seg":"S15","zone":"stS","i":269.4,"hi":2.25,"lo":2.2},{"b":"S","seg":"S15","zone":"stS","i":274.5,"hi":2.19,"lo":2.13},{"b":"S","seg":"S15","zone":"stS","i":278.4,"hi":2.12,"lo":2.05},{"b":"S","seg":"S15","zone":"stS","i":283.2,"hi":2.03,"lo":1.95},{"b":"S","seg":"S15","zone":"stS","i":289.5,"hi":1.94,"lo":1.855},{"b":"S","seg":"S15","zone":"stS","i":293.4,"hi":1.91,"lo":1.83},{"b":"S","seg":"S15","zone":"stS","i":296.2,"hi":1.89,"lo":1.82},{"b":"S","seg":"S15","zone":"stS","i":300.1,"hi":1.876,"lo":1.82},
{"b":"S","seg":"S16","zone":"neu","i":300.1,"hi":1.876,"lo":1.82},{"b":"S","seg":"S16","zone":"neu","i":306.8,"hi":1.882,"lo":1.842},{"b":"S","seg":"S16","zone":"neu","i":311.9,"hi":1.9,"lo":1.865},{"b":"S","seg":"S16","zone":"neu","i":317.1,"hi":1.91,"lo":1.88},{"b":"S","seg":"S16","zone":"neu","i":322.6,"hi":1.89,"lo":1.87},{"b":"S","seg":"S16","zone":"neu","i":324.9,"hi":1.885,"lo":1.88},
{"b":"S","seg":"S17","zone":"stD","i":324.9,"hi":1.885,"lo":1.88},{"b":"S","seg":"S17","zone":"stD","i":327.7,"hi":1.94,"lo":1.915},{"b":"S","seg":"S17","zone":"stD","i":331.7,"hi":2.02,"lo":1.957},{"b":"S","seg":"S17","zone":"stD","i":335.6,"hi":2.06,"lo":2.0},{"b":"S","seg":"S17","zone":"stD","i":340.7,"hi":2.09,"lo":2.045},{"b":"S","seg":"S17","zone":"stD","i":346.2,"hi":2.12,"lo":2.07},{"b":"S","seg":"S17","zone":"stD","i":350.2,"hi":2.136,"lo":2.09},{"b":"S","seg":"S17","zone":"stD","i":352.2,"hi":2.14,"lo":2.09},
{"b":"S","seg":"S18","zone":"neu","i":352.2,"hi":2.14,"lo":2.09},{"b":"S","seg":"S18","zone":"neu","i":355.3,"hi":2.08,"lo":2.05},{"b":"S","seg":"S18","zone":"neu","i":357.3,"hi":2.05,"lo":2.04},
{"b":"S","seg":"S19","zone":"stS","i":357.3,"hi":2.05,"lo":2.04},{"b":"S","seg":"S19","zone":"stS","i":360.4,"hi":2.025,"lo":2.0},{"b":"S","seg":"S19","zone":"stS","i":362.8,"hi":2.007,"lo":1.957}
]
},
"vconcat":[
{
"width":952,"height":466,
"title":{"text":"Adairs Limited Ordinary (ADH) - Daily","anchor":"start","orient":"top","fontSize":10,"fontWeight":"bold","font":"Liberation Sans","color":"#000","offset":-20,"dx":1,"baseline":"bottom"},
"layer":[
{"data":{"name":"bands"},"transform":[{"filter":"datum.b === 'L'"}],
"mark":{"type":"area","interpolate":"monotone"},
"encoding":{
"x":{"field":"i","type":"quantitative","scale":{"domain":[-1.42,373.8],"nice":false,"zero":false},
"axis":{"orient":"bottom","values":[15,38,59,80,103,124,146,168,187,208,229,249,269,292,311,334,356],
"labelExpr":"['May','Jun','Jul','Aug','Sep','Oct','Nov','Dec','2024','Feb','Mar','Apr','May','Jun','Jul','Aug','Sep'][indexof([15,38,59,80,103,124,146,168,187,208,229,249,269,292,311,334,356], datum.value)]",
"labelAlign":"left","labelBaseline":"middle","labelPadding":4,"tickSize":3,"labelOverlap":false,"labelFlush":false,"labelBound":false,"minExtent":14,"maxExtent":14,"labelOffset":1}},
"y":{"field":"hi","type":"quantitative","scale":{"domain":[1.1696,2.7439],"nice":false,"zero":false},
"axis":{"orient":"right","values":[1.2,1.3,1.4,1.5,1.6,1.7,1.8,1.9,2.0,2.1,2.2,2.3,2.4,2.5,2.6,2.7],"tickCount":16,"format":".2f","labelAlign":"right","labelBaseline":"middle","labelPadding":42,"tickSize":3,"labelOverlap":false,"labelBound":false}},
"y2":{"field":"lo"},
"color":{"field":"zone","type":"nominal","scale":{"domain":["stD","ltD","stS","ltS","neu"],"range":["#00FF00","#3CB371","#FFB3B3","#FF7777","#FF6A21"]},"legend":null},
"detail":{"field":"seg"}}},
{"data":{"name":"bands"},"transform":[{"filter":"datum.b === 'S'"}],
"mark":{"type":"area","interpolate":"monotone"},
"encoding":{
"x":{"field":"i","type":"quantitative"},
"y":{"field":"hi","type":"quantitative","axis":{"orient":"right","values":[1.2,1.3,1.4,1.5,1.6,1.7,1.8,1.9,2.0,2.1,2.2,2.3,2.4,2.5,2.6,2.7],"tickCount":16,"format":".2f","labelAlign":"right","labelBaseline":"middle","labelPadding":42,"tickSize":3,"labelOverlap":false,"labelBound":false}},
"y2":{"field":"lo"},
"color":{"field":"zone","type":"nominal","scale":{"domain":["stD","ltD","stS","ltS","neu"],"range":["#00FF00","#3CB371","#FFB3B3","#FF7777","#FF6A21"]},"legend":null},
"detail":{"field":"seg"}}},
{"data":{"name":"px"},"mark":{"type":"rule","strokeWidth":1},
"encoding":{"x":{"field":"i","type":"quantitative"},"y":{"field":"l","type":"quantitative","axis":{"orient":"right","values":[1.2,1.3,1.4,1.5,1.6,1.7,1.8,1.9,2.0,2.1,2.2,2.3,2.4,2.5,2.6,2.7],"tickCount":16,"format":".2f","labelAlign":"right","labelBaseline":"middle","labelPadding":42,"tickSize":3,"labelOverlap":false,"labelBound":false}},"y2":{"field":"h"},
"color":{"condition":{"test":"datum.c >= datum.o","value":"#7a7a7a"},"value":"#000000"}}},
{"data":{"name":"px"},"mark":{"type":"bar","size":1.6,"strokeWidth":0.9},
"encoding":{"x":{"field":"i","type":"quantitative"},"y":{"field":"o","type":"quantitative","axis":{"orient":"right","values":[1.2,1.3,1.4,1.5,1.6,1.7,1.8,1.9,2.0,2.1,2.2,2.3,2.4,2.5,2.6,2.7],"tickCount":16,"format":".2f","labelAlign":"right","labelBaseline":"middle","labelPadding":42,"tickSize":3,"labelOverlap":false,"labelBound":false}},"y2":{"field":"c"},
"fill":{"condition":{"test":"datum.c >= datum.o","value":"#ffffff"},"value":"#000000"},
"stroke":{"condition":{"test":"datum.c >= datum.o","value":"#7a7a7a"},"value":"#000000"}}},
{"data":{"values":[{"k":"a"}]},"transform":[{"filter":"false"}],"mark":{"type":"point","filled":true},
"encoding":{"fill":{"field":"k","type":"nominal","scale":{"domain":["a","b"],"range":["#00FF00","#FFB3B3"]},
"legend":{"orient":"none","legendX":10.65,"legendY":29.7,"padding":0,"rowPadding":3.3,"symbolType":"M-1.67,-1H1.67V1H-1.67Z","symbolSize":100,"symbolStrokeWidth":0,"symbolOpacity":1,"labelExpr":"''","title":null}}}},
{"data":{"values":[{"k":"a"}]},"transform":[{"filter":"false"}],"mark":{"type":"point","filled":true},
"encoding":{"fill":{"field":"k","type":"nominal","scale":{"domain":["a","b"],"range":["#3CB371","#FF7777"]},
"legend":{"orient":"none","legendX":34.65,"legendY":29.7,"padding":0,"rowPadding":3.3,"symbolType":"M-1.67,-1H1.67V1H-1.67Z","symbolSize":100,"symbolStrokeWidth":0,"symbolOpacity":1,"labelExpr":"''","title":null}}}},
{"data":{"values":[{"k":"a"}]},"transform":[{"filter":"false"}],"mark":{"type":"point","filled":true},
"encoding":{"fill":{"field":"k","type":"nominal","scale":{"domain":["a"],"range":["#00FF00"]},
"legend":{"orient":"none","legendX":44.6,"legendY":29.7,"padding":0,"symbolSize":1,"symbolStrokeWidth":0,"symbolOpacity":0,"labelOffset":0,"labelExpr":"'Short-'","labelColor":"#00E600","title":null}}}},
{"data":{"values":[{"k":"a"}]},"transform":[{"filter":"false"}],"mark":{"type":"point","filled":true},
"encoding":{"fill":{"field":"k","type":"nominal","scale":{"domain":["a"],"range":["#FFB3B3"]},
"legend":{"orient":"none","legendX":44.6,"legendY":43.0,"padding":0,"symbolSize":1,"symbolStrokeWidth":0,"symbolOpacity":0,"labelOffset":0,"labelExpr":"'Short-'","labelColor":"#FFB3B3","title":null}}}},
{"data":{"values":[{"k":"a"}]},"transform":[{"filter":"false"}],"mark":{"type":"point","filled":true},
"encoding":{"fill":{"field":"k","type":"nominal","scale":{"domain":["a","b"],"range":["#000","#000"]},
"legend":{"orient":"none","legendX":76.82,"legendY":29.7,"padding":0,"rowPadding":3.3,"symbolSize":1,"symbolStrokeWidth":0,"symbolOpacity":0,"labelOffset":0,"labelExpr":"'/'","title":null}}}},
{"data":{"values":[{"k":"a"}]},"transform":[{"filter":"false"}],"mark":{"type":"point","filled":true},
"encoding":{"fill":{"field":"k","type":"nominal","scale":{"domain":["a"],"range":["#3CB371"]},
"legend":{"orient":"none","legendX":82.38,"legendY":29.7,"padding":0,"symbolSize":1,"symbolStrokeWidth":0,"symbolOpacity":0,"labelOffset":0,"labelExpr":"'Long'","labelColor":"#3CB371","title":null}}}},
{"data":{"values":[{"k":"a"}]},"transform":[{"filter":"false"}],"mark":{"type":"point","filled":true},
"encoding":{"fill":{"field":"k","type":"nominal","scale":{"domain":["a"],"range":["#FF7777"]},
"legend":{"orient":"none","legendX":82.38,"legendY":43.0,"padding":0,"symbolSize":1,"symbolStrokeWidth":0,"symbolOpacity":0,"labelOffset":0,"labelExpr":"'Long'","labelColor":"#FF7777","title":null}}}},
{"data":{"values":[{"k":"a"}]},"transform":[{"filter":"false"}],"mark":{"type":"point","filled":true},
"encoding":{"fill":{"field":"k","type":"nominal","scale":{"domain":["-term demand zone","-term supply zone"],"range":["#000","#000"]},
"legend":{"orient":"none","legendX":106.82,"legendY":29.7,"padding":0,"rowPadding":3.3,"symbolSize":1,"symbolStrokeWidth":0,"symbolOpacity":0,"labelOffset":0,"title":null}}}},
{"data":{"values":[{"k":"a"}]},"transform":[{"filter":"false"}],"mark":{"type":"point","filled":false},
"encoding":{"stroke":{"field":"k","type":"nominal","scale":{"domain":["Demand point","Supply point"],"range":["#00E600","#FF0000"]},
"legend":{"orient":"none","legendX":19.65,"legendY":55,"padding":0,"rowPadding":0.3,"symbolType":"M-3.77,0H3.77","symbolSize":100,"symbolStrokeWidth":3,"symbolDash":[2,1.8],"labelOffset":21.65,"title":null}}}}
],
"resolve":{"scale":{"fill":"independent","stroke":"independent"},"legend":{"fill":"independent","stroke":"independent"}}
},
{
"width":952,"height":82,
"title":{"text":"Volume","anchor":"start","orient":"top","fontSize":10,"fontWeight":"bold","font":"Liberation Sans","color":"#5E2D91","offset":-23,"dx":2,"baseline":"bottom"},
"data":{"name":"px"},
"mark":{"type":"rule","color":"#9a9ade","strokeWidth":1},
"encoding":{
"x":{"field":"i","type":"quantitative","scale":{"domain":[-1.42,373.8],"nice":false,"zero":false},
"axis":{"orient":"top","labels":false,"ticks":false,"domain":true,"minExtent":0,"maxExtent":0}},
"y":{"field":"v","type":"quantitative","scale":{"domain":[0,6.735],"nice":false,"zero":false},
"axis":{"orient":"right","values":[2,4,6],"labelExpr":"datum.value + 'M'","labelAlign":"right","labelBaseline":"middle","labelPadding":42,"tickSize":3,"labelOverlap":false,"labelBound":false}},
"y2":{"datum":0}}
}
]
}
